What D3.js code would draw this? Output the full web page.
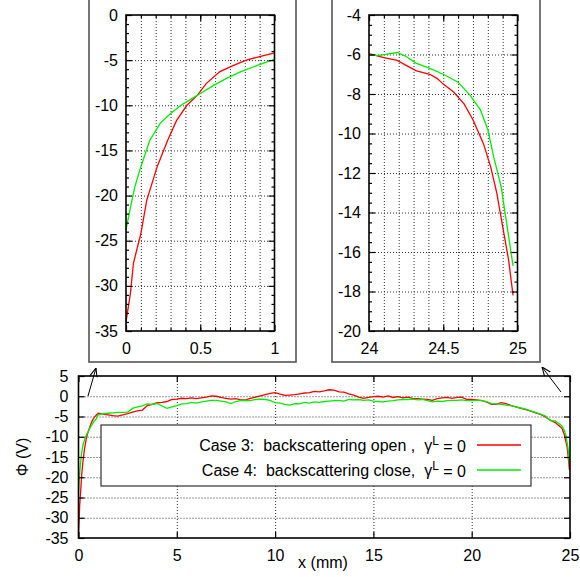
<!DOCTYPE html>
<html>
<head>
<meta charset="utf-8">
<title>Phi profile, cases 3 and 4</title>
<script src="https://d3js.org/d3.v7.min.js"></script>
<style>
body { margin: 0; background: #fff; }
svg text { font-family: "Liberation Sans", Arial, Helvetica, sans-serif; fill: #000; }
.grid line { stroke: #333; stroke-width: 1; stroke-dasharray: 1,2; }
.grid path { display: none; }
.ticks path { display: none; }
.ticks line { stroke: #000; stroke-width: 1.2; }
.ticks text { font-size: 16px; }
.frame { fill: none; stroke: #000; stroke-width: 1.6; }
.line { fill: none; stroke-width: 1.3; }
</style>
</head>
<body>
<svg id="chart" width="580" height="577"></svg>
<script>

// ---- data ----

// full profile, x in mm
var mainX = [0, 0.03, 0.06, 0.1, 0.16, 0.23, 0.3, 0.4, 0.5, 0.6, 0.7, 0.8, 0.9,
  1.0, 1.25, 1.5, 1.75, 2.0, 2.25, 2.5, 2.75, 3.0, 3.25, 3.5, 3.75, 4.0, 4.25, 4.5, 4.75,
  5.0, 5.25, 5.5, 5.75, 6.0, 6.25, 6.5, 6.75, 7.0, 7.25, 7.5, 7.75, 8.0, 8.25, 8.5, 8.75,
  9.0, 9.25, 9.5, 9.75, 10.0, 10.25, 10.5, 10.75, 11.0, 11.25, 11.5, 11.75, 12.0, 12.25,
  12.5, 12.75, 13.0, 13.25, 13.5, 13.75, 14.0, 14.25, 14.5, 14.75, 15.0, 15.25, 15.5, 15.75,
  16.0, 16.25, 16.5, 16.75, 17.0, 17.25, 17.5, 17.75, 18.0, 18.25, 18.5, 18.75, 19.0, 19.25,
  19.5, 19.75, 20.0, 20.25, 20.5, 20.75, 21.0, 21.25, 21.5, 21.75, 22.0, 22.25, 22.5, 22.75,
  23.0, 23.25, 23.5, 23.75, 24.0, 24.25, 24.5, 24.6, 24.7, 24.8, 24.85, 24.9, 24.95, 24.97];

var mainOpen = [-34, -30.8, -27, -24.2, -19.5, -16, -13.2, -10.3, -8.6, -7.3, -6.0, -5.2, -4.7,
  -4.2, -4.4, -4.6, -4.8, -4.9, -4.6, -4.3, -3.9, -3.6, -3.4, -2.3, -2.0, -1.6, -1.5, -1.3, -0.8,
  -0.7, -0.5, -0.6, -0.4, -0.6, -0.4, -0.2, 0.1, 0.0, -0.3, -0.5, -0.7, -0.6, -0.9, -0.9, -0.5,
  -0.2, 0.1, 0.4, 0.7, 0.9, 0.5, 0.2, 0.3, 0.4, 0.6, 0.8, 0.9, 1.2, 1.1,
  1.3, 1.6, 1.5, 1.1, 1.0, 0.6, 0.3, -0.2, -0.5, -0.3, -0.1, 0.0, -0.2, 0.1,
  -0.3, -0.1, -0.4, -0.2, -0.5, -0.6, -0.7, -0.8, -1.0, -0.6, -0.4, -0.3, -0.5, -0.3,
  -0.2, -0.8, -0.8, -0.9, -1.1, -1.4, -2.0, -2.0, -1.6, -1.8, -2.3, -2.6, -3.0, -3.3,
  -3.7, -4.1, -4.5, -5.1, -5.9, -6.5, -7.5, -8.0, -9.3, -11.4, -12.5, -14.7, -17.0, -18.2];

var mainClose = [-23.8, -21.3, -19, -16.8, -13.9, -12, -10.9, -9.6, -8.7, -7.7, -6.9, -6.1, -5.6,
  -4.6, -4.3, -4.2, -4.1, -4.0, -4.0, -3.9, -3.0, -2.6, -2.4, -1.9, -2.0, -1.8, -2.4, -3.0, -2.6,
  -2.3, -1.9, -1.8, -1.5, -1.7, -1.4, -1.2, -1.0, -1.0, -1.2, -1.4, -1.8, -1.3, -1.1, -1.0, -1.1,
  -0.8, -0.7, -0.8, -1.0, -1.6, -1.7, -2.0, -2.2, -1.8, -1.9, -1.5, -1.7, -1.4, -1.5,
  -1.3, -1.2, -1.1, -1.0, -1.2, -0.8, -0.9, -0.8, -1.0, -0.9, -1.2, -1.3, -1.4, -1.2,
  -1.1, -0.9, -0.8, -0.8, -0.7, -0.9, -0.8, -1.1, -1.4, -1.2, -1.3, -1.1, -1.0, -1.0,
  -0.9, -1.1, -1.1, -1.0, -1.0, -1.3, -1.8, -1.9, -2.0, -2.2, -2.3, -2.6, -2.9, -3.2,
  -3.6, -4.0, -4.4, -4.9, -6.0, -6.1, -7.0, -7.4, -8.3, -9.8, -11.4, -12.9, -15.5, -16.7];

// zoom near the left wall (0..1 mm)
var leftX = [0, 0.03, 0.05, 0.1, 0.14, 0.21, 0.28, 0.34, 0.41, 0.48, 0.54, 0.63, 0.72, 0.81, 0.9, 1.0];
var leftOpen = [-34, -30.8, -27.5, -24.2, -20.5, -16.8, -13.9, -11.7, -10.0, -8.9, -7.6, -6.3, -5.6, -5.0, -4.6, -4.2];
var leftCloseX = [0, 0.03, 0.06, 0.1, 0.16, 0.23, 0.3, 0.37, 0.43, 0.5, 0.59, 0.68, 0.77, 0.88, 0.95, 1.0];
var leftClose = [-23.8, -21.3, -19.0, -16.8, -13.9, -12.0, -10.9, -10.0, -9.4, -8.7, -7.8, -7.0, -6.3, -5.6, -5.2, -4.9];

// zoom near the right wall (24..25 mm)
var rightX = [24.0, 24.1, 24.19, 24.25, 24.32, 24.41, 24.46, 24.5, 24.57, 24.64, 24.7, 24.77, 24.82, 24.86, 24.9, 24.94, 24.97];
var rightOpen = [-5.96, -6.16, -6.3, -6.55, -6.83, -7.0, -7.22, -7.5, -7.9, -8.5, -9.3, -10.5, -11.7, -13.0, -14.7, -16.4, -18.2];
var rightCloseX = [24.0, 24.07, 24.19, 24.25, 24.32, 24.41, 24.5, 24.6, 24.68, 24.75, 24.8, 24.84, 24.89, 24.93, 24.97];
var rightClose = [-6.04, -6.04, -5.9, -6.1, -6.45, -6.7, -7.0, -7.4, -8.06, -8.8, -9.8, -11.2, -12.7, -14.7, -16.7];

// tick labels
var mainXTicks = [0, 5, 10, 15, 20, 25];
var mainYTicks = [5, 0, -5, -10, -15, -20, -25, -30, -35];
var leftXTicks = [0, 0.5, 1];
var leftYTicks = [0, -5, -10, -15, -20, -25, -30, -35];
var rightXTicks = [24, 24.5, 25];
var rightYTicks = [-4, -6, -8, -10, -12, -14, -16, -18, -20];

var legendLabels = ["Case 3:  backscattering open ,  ", "Case 4:  backscattering close,  "];
var seriesColors = ["#ff0000", "#00ee00"];

// ---- drawing ----

var svg = d3.select("#chart");

function zip(xs, ys) {
  return xs.map(function(v, i) { return [v, ys[i]]; });
}

function panel(cfg) {
  var w = cfg.right - cfg.left, h = cfg.bottom - cfg.top;
  var x = d3.scaleLinear().domain(cfg.xDomain).range([0, w]);
  var y = d3.scaleLinear().domain(cfg.yDomain).range([h, 0]);
  var g = svg.append("g").attr("transform", "translate(" + cfg.left + "," + cfg.top + ")");

  // dotted grid
  g.append("g").attr("class", "grid")
    .attr("transform", "translate(0," + h + ")")
    .call(d3.axisBottom(x).tickValues(cfg.xGrid).tickSize(-h).tickFormat(""));
  g.append("g").attr("class", "grid")
    .call(d3.axisLeft(y).tickValues(cfg.yGrid).tickSize(-w).tickFormat(""));

  // curves
  var line = d3.line().x(function(d) { return x(d[0]); }).y(function(d) { return y(d[1]); });
  cfg.series.forEach(function(s, i) {
    g.append("path")
      .datum(s)
      .attr("class", "line")
      .style("stroke", seriesColors[i])
      .attr("d", line);
  });

  // inward ticks on all four sides
  var fmt = function(d) { return d; };
  var bx = g.append("g").attr("class", "ticks").attr("transform", "translate(0," + h + ")")
    .call(d3.axisBottom(x).tickValues(cfg.xTicks).tickSizeInner(-6).tickSizeOuter(0).tickPadding(17).tickFormat(fmt));
  bx.selectAll("text").attr("dy", "0.35em");
  g.append("g").attr("class", "ticks")
    .call(d3.axisTop(x).tickValues(cfg.xTicks).tickSizeInner(-6).tickSizeOuter(0).tickFormat(""));
  g.append("g").attr("class", "ticks")
    .call(d3.axisLeft(y).tickValues(cfg.yTicks).tickSizeInner(-6).tickSizeOuter(0).tickPadding(cfg.yPad).tickFormat(fmt));
  g.append("g").attr("class", "ticks")
    .attr("transform", "translate(" + w + ",0)")
    .call(d3.axisRight(y).tickValues(cfg.yTicks).tickSizeInner(-6).tickSizeOuter(0).tickFormat(""));

  if (cfg.xMinor) {
    g.append("g").attr("class", "ticks").attr("transform", "translate(0," + h + ")")
      .call(d3.axisBottom(x).tickValues(cfg.xMinor).tickSizeInner(-3).tickSizeOuter(0).tickFormat(""));
    g.append("g").attr("class", "ticks")
      .call(d3.axisTop(x).tickValues(cfg.xMinor).tickSizeInner(-3).tickSizeOuter(0).tickFormat(""));
  }
  if (cfg.yMinor) {
    g.append("g").attr("class", "ticks")
      .call(d3.axisLeft(y).tickValues(cfg.yMinor).tickSizeInner(-3).tickSizeOuter(0).tickFormat(""));
    g.append("g").attr("class", "ticks").attr("transform", "translate(" + w + ",0)")
      .call(d3.axisRight(y).tickValues(cfg.yMinor).tickSizeInner(-3).tickSizeOuter(0).tickFormat(""));
  }

  g.append("rect").attr("class", "frame").attr("width", w).attr("height", h);
  return g;
}

// inset frames (top runs off the page)
svg.append("rect").attr("x", 89).attr("y", -5).attr("width", 207).attr("height", 367)
  .attr("fill", "#fff").attr("stroke", "#555").attr("stroke-width", 1.6);
svg.append("rect").attr("x", 332).attr("y", -5).attr("width", 208).attr("height", 367)
  .attr("fill", "#fff").attr("stroke", "#555").attr("stroke-width", 1.6);

panel({
  left: 126, right: 274.5, top: 15, bottom: 331,
  xDomain: [0, 1], yDomain: [-35, 0],
  xTicks: leftXTicks, yTicks: leftYTicks,
  xGrid: d3.range(1, 10).map(function(i) { return i / 10; }),
  yGrid: leftYTicks.slice(1, -1),
  xMinor: d3.range(1, 10).map(function(i) { return i / 10; }),
  yMinor: d3.range(-34, 0).filter(function(v) { return v % 5 !== 0; }),
  yPad: 8,
  series: [zip(leftX, leftOpen), zip(leftCloseX, leftClose)]
});

panel({
  left: 369, right: 517.5, top: 15, bottom: 331,
  xDomain: [24, 25], yDomain: [-20, -4],
  xTicks: rightXTicks, yTicks: rightYTicks,
  xGrid: d3.range(1, 10).map(function(i) { return 24 + i / 10; }),
  yGrid: rightYTicks.slice(1, -1),
  xMinor: d3.range(1, 10).map(function(i) { return 24 + i / 10; }),
  yMinor: d3.range(-39, -8).map(function(i) { return i / 2; }).filter(function(v) { return v % 2 !== 0; }),
  yPad: 8,
  series: [zip(rightX, rightOpen), zip(rightCloseX, rightClose)]
});

panel({
  left: 78.5, right: 570, top: 376, bottom: 538,
  xDomain: [0, 25], yDomain: [-35, 5],
  xTicks: mainXTicks, yTicks: mainYTicks,
  xGrid: mainXTicks.slice(1, -1),
  yGrid: mainYTicks.slice(1, -1),
  yPad: 10,
  series: [zip(mainX, mainOpen), zip(mainX, mainClose)]
});

// axis titles
svg.append("text").attr("x", 323).attr("y", 568).attr("text-anchor", "middle")
  .style("font-size", "16px").text("x (mm)");
svg.append("text").attr("transform", "translate(28,457) rotate(-90)").attr("text-anchor", "middle")
  .style("font-size", "16px").text("\u03A6 (V)");

// legend
var leg = svg.append("g");
leg.append("rect").attr("x", 101).attr("y", 425).attr("width", 430).attr("height", 61)
  .attr("fill", "#fff").attr("stroke", "#333").attr("stroke-width", 1.2);
legendLabels.forEach(function(lab, i) {
  var yy = 445 + i * 25;
  var t = leg.append("text").attr("x", 466).attr("y", yy).attr("dy", "0.35em")
    .attr("text-anchor", "end").style("font-size", "16px").style("white-space", "pre");
  t.append("tspan").text(lab + "\u03B3");
  t.append("tspan").attr("dy", "-0.45em").style("font-size", "12px").text("L");
  t.append("tspan").attr("dy", "0.45em").text(" = 0");
  leg.append("line").attr("x1", 477).attr("x2", 521).attr("y1", yy).attr("y2", yy)
    .attr("stroke", seriesColors[i]).attr("stroke-width", 1.3);
});

// arrows pointing from the main plot to the zoomed panels
var defs = svg.append("defs");
defs.append("marker").attr("id", "head").attr("viewBox", "0 0 10 10")
  .attr("refX", 10).attr("refY", 5).attr("markerWidth", 9).attr("markerHeight", 9)
  .attr("orient", "auto").attr("markerUnits", "userSpaceOnUse")
  .append("path").attr("d", "M0,1 L10,5 L0,9").attr("fill", "none").attr("stroke", "#000").attr("stroke-width", 1.2);
svg.append("line").attr("x1", 88).attr("y1", 396).attr("x2", 96).attr("y2", 368)
  .attr("stroke", "#000").attr("stroke-width", 1).attr("marker-end", "url(#head)");
svg.append("line").attr("x1", 561).attr("y1", 392).attr("x2", 542).attr("y2", 367)
  .attr("stroke", "#000").attr("stroke-width", 1).attr("marker-end", "url(#head)");

</script>
</body>
</html>
